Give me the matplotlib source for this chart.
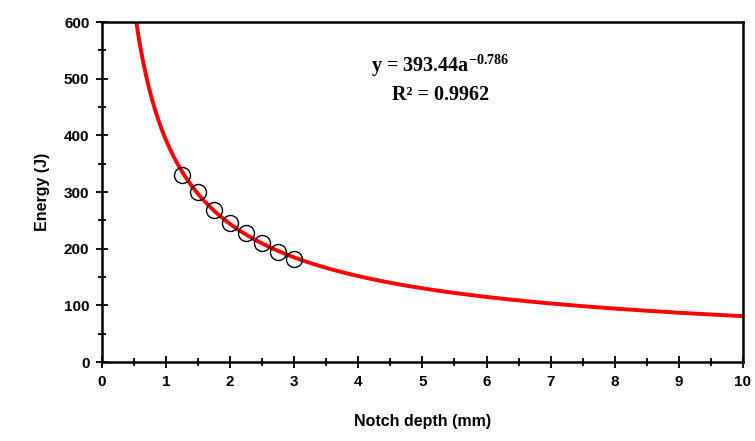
import numpy as np
import matplotlib.pyplot as plt
from matplotlib.ticker import MultipleLocator

# data
notch_depth = [1.25, 1.5, 1.75, 2.0, 2.25, 2.5, 2.75, 3.0]
energy = [330, 300, 268, 245, 228, 210, 195, 182]

# power-law trend line fitted to the points
b, loga = np.polyfit(np.log(notch_depth), np.log(energy), 1)
xf = np.linspace(0.3, 10, 400)
yf = np.exp(loga) * xf ** b

plt.rcParams['font.family'] = ['Liberation Sans', 'DejaVu Sans']
plt.rcParams['font.weight'] = 'bold'
plt.rcParams['mathtext.fontset'] = 'custom'
plt.rcParams['mathtext.rm'] = 'Liberation Serif:bold'
plt.rcParams['mathtext.bf'] = 'Liberation Serif:bold'

fig = plt.figure(figsize=(7.55, 4.41), dpi=100)
ax = fig.add_axes([0.135, 0.179, 0.849, 0.771])

ax.plot(xf, yf, color='red', lw=2.8, zorder=2)
ax.plot(notch_depth, energy, 'o', mfc='none', mec='black', mew=1.0, ms=11.5, zorder=3)

ax.set_xlim(0, 10)
ax.set_ylim(0, 600)
ax.xaxis.set_major_locator(MultipleLocator(1))
ax.xaxis.set_minor_locator(MultipleLocator(0.5))
ax.yaxis.set_major_locator(MultipleLocator(100))
ax.yaxis.set_minor_locator(MultipleLocator(50))
ax.tick_params(which='both', direction='inout', width=1.3, labelsize=11, pad=5)
ax.tick_params(which='major', length=8)
ax.tick_params(which='minor', length=6)
for s in ax.spines.values():
    s.set_linewidth(1.8)
for lab in ax.get_xticklabels() + ax.get_yticklabels():
    lab.set_fontweight('bold')

ax.set_xlabel('Notch depth (mm)', fontsize=11.5, fontweight='bold', labelpad=18)
ax.set_ylabel('Energy (J)', fontsize=11.5, fontweight='bold', labelpad=10)

ax.text(0.528, 0.873, r'y = 393.44a$^{\mathbf{-0.786}}$', transform=ax.transAxes,
        ha='center', va='center', fontsize=14.5, fontweight='bold',
        family=['Liberation Serif', 'DejaVu Serif'])
ax.text(0.528, 0.785, 'R² = 0.9962', transform=ax.transAxes,
        ha='center', va='center', fontsize=14.5, fontweight='bold',
        family=['Liberation Serif', 'DejaVu Serif'])

fig.savefig('out.png', dpi=100)
